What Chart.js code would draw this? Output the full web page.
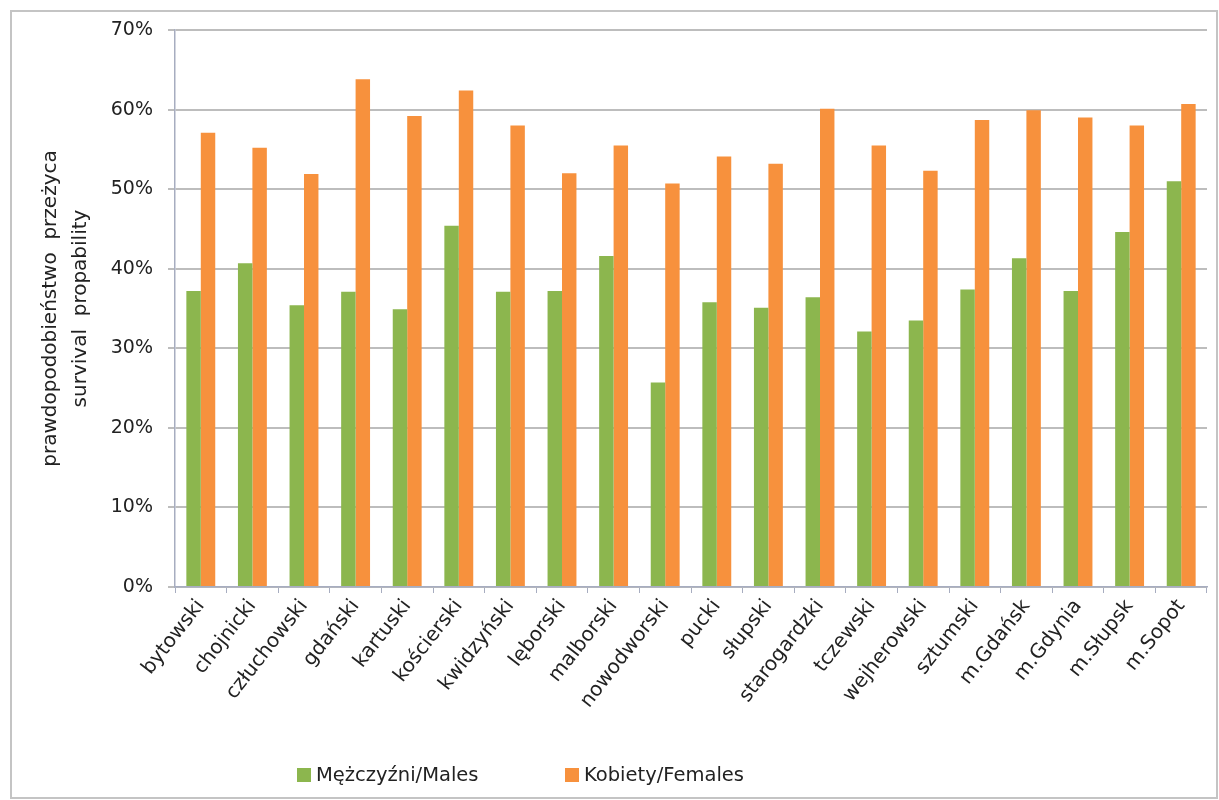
<!DOCTYPE html>
<html>
<head>
<meta charset="utf-8">
<script src="https://cdn.jsdelivr.net/npm/chart.js@4.4.1/dist/chart.umd.min.js"></script>
<style>
  html, body { margin: 0; padding: 0; background: #ffffff; }
  #wrap { position: relative; width: 1219px; height: 800px; }
</style>
</head>
<body>
<div id="wrap"><canvas id="c" width="1219" height="800"></canvas></div>
<script>
const categories = ["bytowski", "chojnicki", "człuchowski", "gdański", "kartuski", "kościerski", "kwidzyński", "lęborski", "malborski", "nowodworski", "pucki", "słupski", "starogardzki", "tczewski", "wejherowski", "sztumski", "m.Gdańsk", "m.Gdynia", "m.Słupsk", "m.Sopot"];
const males = [37.2, 40.7, 35.4, 37.1, 34.9, 45.4, 37.1, 37.2, 41.6, 25.7, 35.8, 35.1, 36.4, 32.1, 33.5, 37.4, 41.3, 37.2, 44.6, 51.0];
const females = [57.1, 55.2, 51.9, 63.8, 59.2, 62.4, 58.0, 52.0, 55.5, 50.7, 54.1, 53.2, 60.1, 55.5, 52.3, 58.7, 59.9, 59.0, 58.0, 60.7];
const seriesNames = ["Mężczyźni/Males", "Kobiety/Females"];
const yTitle = ["prawdopodobieństwo  przeżyca", "survival  propability"];
const yTicks = [0, 10, 20, 30, 40, 50, 60, 70];

const FONT = "'DejaVu Sans', sans-serif";
const GREEN = '#8cb64e';
const ORANGE = '#f7913d';

const framePlugin = {
  id: 'frame',
  beforeDraw(chart) {
    const ctx = chart.ctx;
    ctx.save();
    ctx.fillStyle = '#ffffff';
    ctx.fillRect(0, 0, chart.width, chart.height);
    ctx.strokeStyle = '#c4c4c4';
    ctx.lineWidth = 2;
    ctx.strokeRect(11, 11, 1206, 787);
    ctx.restore();
  }
};

const legendPlugin = {
  id: 'customLegend',
  afterDraw(chart) {
    const ctx = chart.ctx;
    const items = [
      { x: 297, label: chart.data.datasets[0].label, color: chart.data.datasets[0].backgroundColor },
      { x: 565, label: chart.data.datasets[1].label, color: chart.data.datasets[1].backgroundColor }
    ];
    const y = 775;
    ctx.save();
    ctx.font = "19.5px " + FONT;
    ctx.textBaseline = 'middle';
    ctx.textAlign = 'left';
    items.forEach(it => {
      ctx.fillStyle = it.color;
      ctx.fillRect(it.x, y - 7, 14, 14);
      ctx.fillStyle = '#222222';
      ctx.fillText(it.label, it.x + 19, y + 1);
    });
    ctx.restore();
  }
};

new Chart(document.getElementById('c'), {
  type: 'bar',
  data: {
    labels: categories,
    datasets: [
      { label: seriesNames[0], data: males, backgroundColor: GREEN, borderWidth: 0 },
      { label: seriesNames[1], data: females, backgroundColor: ORANGE, borderWidth: 0 }
    ]
  },
  options: {
    responsive: false,
    animation: false,
    devicePixelRatio: 1,
    layout: { padding: { top: 30, right: 12, left: 0, bottom: 63 } },
    datasets: { bar: { categoryPercentage: 0.56, barPercentage: 1.0 } },
    plugins: {
      legend: { display: false },
      tooltip: { enabled: false },
      title: { display: false }
    },
    scales: {
      x: {
        afterFit(scale) { scale.height = 150; },
        grid: { display: true, drawOnChartArea: false, drawTicks: true, tickLength: 6, color: '#a7adc0', lineWidth: 1 },
        border: { display: true, color: '#a7adc0', width: 1.5 },
        ticks: {
          font: { family: FONT, size: 20 },
          color: '#222222',
          maxRotation: 52,
          minRotation: 52,
          padding: 2,
          autoSkip: false
        }
      },
      y: {
        min: 0,
        max: 70,
        afterFit(scale) { scale.width = 175; },
        afterBuildTicks(scale) { scale.ticks = yTicks.map(v => ({ value: v })); },
        grid: { color: '#bdbdbd', lineWidth: 2, drawTicks: true, tickLength: 7 },
        border: { display: true, color: '#a7adc0', width: 1.5 },
        ticks: {
          font: { family: FONT, size: 19 },
          color: '#222222',
          padding: 15,
          callback: v => v + '%'
        },
        title: {
          display: true,
          text: yTitle,
          font: { family: FONT, size: 20, lineHeight: 1.5 },
          color: '#222222',
          padding: { top: 36, bottom: 0 }
        }
      }
    }
  },
  plugins: [framePlugin, legendPlugin]
});
</script>
</body>
</html>
